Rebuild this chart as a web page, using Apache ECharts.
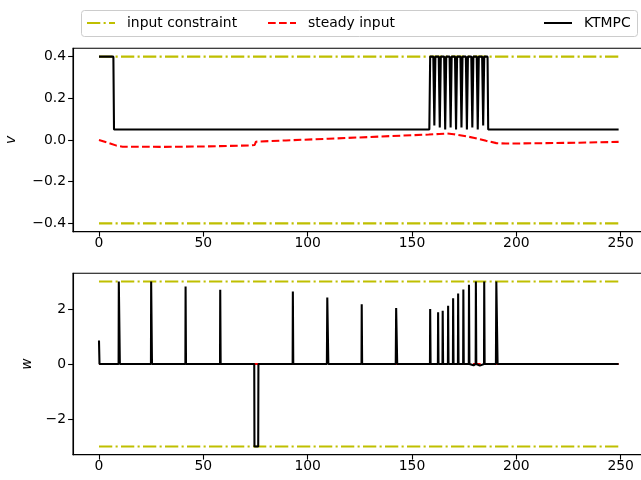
<!DOCTYPE html>
<html>
<head>
<meta charset="utf-8">
<title>KTMPC inputs</title>
<script src="https://cdn.jsdelivr.net/npm/echarts@6/dist/echarts.min.js"></script>
<style>
  body { margin: 0; padding: 0; background: white; }
  #main { width: 641px; height: 480px; }
</style>
</head>
<body>
<div id="main"></div>
<script>
// ---- data ----
var xTicks = [0, 50, 100, 150, 200, 250];
var vTicks = [-0.4, -0.2, 0.0, 0.2, 0.4];
var wTicks = [-2, 0, 2];

var limitTime = [0, 249];
var vUpper = [0.4, 0.4];
var vLower = [-0.4, -0.4];
var wUpper = [3, 3];
var wLower = [-3, -3];

// steady input, v panel
var vSteadyTime = [0, 4, 8.4, 11.3, 30.9, 50, 73, 74.6, 75.2, 89.6, 110, 128.8, 145, 158, 163, 166.9, 170, 173.7, 180, 185.5, 190.4, 195, 207, 230, 249];
var vSteady     = [0, -0.012, -0.027, -0.032, -0.033, -0.031, -0.026, -0.024, -0.008, -0.002, 0.006, 0.014, 0.021, 0.026, 0.029, 0.031, 0.028, 0.022, 0.01, -0.004, -0.015, -0.017, -0.016, -0.013, -0.009];

// KTMPC, v panel
var vKtmpcTime = [0, 6.9, 7.2, 74.8, 75, 75.2, 158.3, 158.7,
  160.2, 160.7, 161.2, 162.8, 163.3, 163.8, 165.4, 165.9, 166.4, 168.0, 168.5, 169.0,
  170.6, 171.1, 171.6, 173.2, 173.7, 174.2, 175.8, 176.3, 176.8, 178.4, 178.9, 179.4,
  181.0, 181.5, 182.0, 183.6, 184.1, 184.6, 186.2, 186.5, 249];
var vKtmpc = [0.4, 0.4, 0.05, 0.05, 0.056, 0.05, 0.05, 0.4,
  0.4, 0.07, 0.4, 0.4, 0.06, 0.4, 0.4, 0.05, 0.4, 0.4, 0.06, 0.4,
  0.4, 0.05, 0.4, 0.4, 0.06, 0.4, 0.4, 0.05, 0.4, 0.4, 0.06, 0.4,
  0.4, 0.05, 0.4, 0.4, 0.07, 0.4, 0.4, 0.05, 0.05];

// steady input, w panel
var wSteadyTime = [0, 75, 75.3, 249];
var wSteady     = [0, 0, 0.02, 0];

// KTMPC, w panel
var wKtmpcTime = [0, 0.25, 9.4, 9.5, 9.9, 10.0, 24.9, 25.0, 25.3, 25.4, 41.4, 41.5, 41.7,
  58.0, 58.1, 58.3, 74.4, 74.5, 76.3, 76.4, 92.8, 92.9, 93.1, 109.2, 109.4, 109.7, 109.9,
  125.8, 125.9, 126.1, 142.2, 142.4, 142.7, 142.9, 158.6, 158.7, 158.9, 162.4, 162.5, 162.7,
  164.6, 164.7, 164.9, 167.2, 167.3, 167.5, 169.6, 169.7, 169.9, 172.0, 172.1, 172.3,
  174.5, 174.6, 174.8, 177.2, 177.3, 177.5, 179.5, 180.5, 180.6, 180.8, 182.5, 184.5, 184.6, 184.8,
  185.6, 190.2, 190.4, 190.8, 191.0, 249];
var wKtmpc = [0.85, 0, 0, 3.0, 3.0, 0, 0, 3.0, 3.0, 0, 0, 2.82, 0,
  0, 2.7, 0, 0, -3, -3, 0, 0, 2.63, 0, 0, 2.42, 2.42, 0,
  0, 2.17, 0, 0, 2.03, 2.03, 0, 0, 2.0, 0, 0, 1.88, 0,
  0, 1.93, 0, 0, 2.12, 0, 0, 2.39, 0, 0, 2.56, 0,
  0, 2.71, 0, 0, 2.88, 0, -0.05, 0, 3.0, 0, -0.06, 0, 3.0, 0,
  -0.06, 0, 3.0, 3.0, 0, 0];

function zip(t, y) {
  return t.map(function (x, i) { return [x, y[i]]; });
}
function minus(s) { return s.replace('-', '\u2212'); }

// matplotlib at 100 dpi: 1pt = 1.389px
var font = 'DejaVu Sans';
var fs = 13.9;
var lw = 2.08;
var dashDot = [13.3, 3.3, 2.1, 3.3];
var dashed = [7.7, 3.3];
var yellow = '#bfbf00';

function xAxisFor(idx) {
  return {
    type: 'value', gridIndex: idx, min: -12.45, max: 261.45,
    axisLine: { show: true, onZero: false, lineStyle: { color: '#000', width: 1.1 } },
    axisTick: { show: true, length: 4.9, customValues: xTicks, lineStyle: { color: '#000', width: 1.1 } },
    axisLabel: { customValues: xTicks, margin: 5, color: '#000', fontFamily: font, fontSize: fs },
    splitLine: { show: false }
  };
}
function yAxisFor(idx, lo, hi, ticks, fmt, name, gap) {
  return {
    type: 'value', gridIndex: idx, min: lo, max: hi,
    name: name, nameLocation: 'middle', nameRotate: 90, nameGap: gap,
    nameTextStyle: { color: '#000', fontFamily: font, fontSize: fs, fontStyle: 'italic' },
    axisLine: { show: true, onZero: false, lineStyle: { color: '#000', width: 1.1 } },
    axisTick: { show: true, length: 4.9, customValues: ticks, lineStyle: { color: '#000', width: 1.1 } },
    axisLabel: { customValues: ticks, margin: 7, color: '#000', fontFamily: font, fontSize: fs, formatter: fmt },
    splitLine: { show: false }
  };
}
function line(name, data, xi, color, type, z) {
  return {
    name: name, type: 'line', xAxisIndex: xi, yAxisIndex: xi, data: data,
    showSymbol: false, symbol: 'none', animation: false, z: z,
    lineStyle: { color: color, width: lw, type: type },
    itemStyle: { color: color }
  };
}

var chart = echarts.init(document.getElementById('main'), null, { renderer: 'canvas' });
chart.setOption({
  backgroundColor: '#fff',
  animation: false,
  textStyle: { fontFamily: font },
  grid: [
    { left: 73, top: 48.3, width: 571.6, height: 183.4, outerBoundsMode: 'none', show: true, borderColor: '#000', borderWidth: 1.1 },
    { left: 73, top: 273.2, width: 571.6, height: 181.5, outerBoundsMode: 'none', show: true, borderColor: '#000', borderWidth: 1.1 }
  ],
  xAxis: [xAxisFor(0), xAxisFor(1)],
  yAxis: [
    yAxisFor(0, -0.44, 0.44, vTicks, function (v) { return minus(v.toFixed(1)); }, 'v', 55),
    yAxisFor(1, -3.3, 3.3, wTicks, function (v) { return minus(String(v)); }, 'w', 38)
  ],
  legend: [
    { data: ['input constraint'], left: 86, top: 16 },
    { data: ['steady input'], left: 267, top: 16 },
    { data: ['KTMPC'], left: 543, top: 16 }
  ].map(function (l) {
    l.padding = 0; l.itemWidth = 28; l.itemHeight = 14;
    l.itemStyle = { opacity: 0 };
    l.textStyle = { color: '#000', fontFamily: font, fontSize: fs, padding: [0, 0, 0, 7] };
    return l;
  }),
  graphic: [{
    type: 'rect', z: -1, silent: true,
    shape: { x: 81.5, y: 10.5, width: 556, height: 26, r: 3 },
    style: { fill: '#fff', stroke: '#cccccc', lineWidth: 1 }
  }],
  series: [
    line('input constraint', zip(limitTime, vUpper), 0, yellow, dashDot, 1),
    line('input constraint', zip(limitTime, vLower), 0, yellow, dashDot, 1),
    line('steady input', zip(vSteadyTime, vSteady), 0, '#ff0000', dashed, 2),
    line('KTMPC', zip(vKtmpcTime, vKtmpc), 0, '#000', 'solid', 3),
    line('input constraint', zip(limitTime, wUpper), 1, yellow, dashDot, 1),
    line('input constraint', zip(limitTime, wLower), 1, yellow, dashDot, 1),
    line('steady input', zip(wSteadyTime, wSteady), 1, '#ff0000', dashed, 2),
    line('KTMPC', zip(wKtmpcTime, wKtmpc), 1, '#000', 'solid', 3)
  ]
});
</script>
</body>
</html>
